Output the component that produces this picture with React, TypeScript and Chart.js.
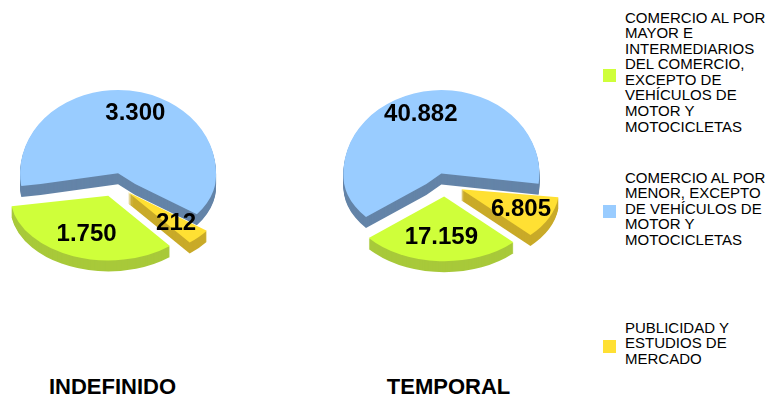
import React, { useEffect, useRef } from 'react';
import { Chart, registerables } from 'chart.js';

Chart.register(...registerables);

// ---- data ----
const categories = [
  'COMERCIO AL POR\nMAYOR E\nINTERMEDIARIOS\nDEL COMERCIO,\nEXCEPTO DE\nVEHÍCULOS DE\nMOTOR Y\nMOTOCICLETAS',
  'COMERCIO AL POR\nMENOR, EXCEPTO\nDE VEHÍCULOS DE\nMOTOR Y\nMOTOCICLETAS',
  'PUBLICIDAD Y\nESTUDIOS DE\nMERCADO',
];
const indefinidoValues = [1750, 3300, 212];
const temporalValues = [17159, 40882, 6805];
const pieTitles = ['INDEFINIDO', 'TEMPORAL'];

// ---- styles ----
const topColors = ['#CFFF3A', '#99CCFF', '#FFE033'];
const sideColors = ['#A8C93A', '#6484A8', '#C9AA28'];
const explodeBy = [19, 13, 18];
const labelRadius = [0.62, 0.75, 0.68];
const K_TOP = 0.85;
const K_BOTTOM = 0.66;
const DEPTH = 11;
const FONT = '"Liberation Sans", Arial, Helvetica, sans-serif';

const fmt = (n: number) => String(n).replace(/\B(?=(\d{3})+(?!\d))/g, '.');

const tiltPlugin = {
  id: 'tilt3d',
  beforeDatasetsDraw(chart: any) {
    const ctx: CanvasRenderingContext2D = chart.ctx;
    const meta = chart.getDatasetMeta(0);
    const arcs = meta.data as any[];
    if (!arcs.length) return false;
    const cy = arcs[0].y;
    const tilt = (dy: number, fn: () => void) => {
      for (const half of [0, 1]) {
        const k = half === 0 ? K_TOP : K_BOTTOM;
        ctx.save();
        ctx.translate(0, dy);
        ctx.beginPath();
        if (half === 0) ctx.rect(-5000, cy - 5000, 10000, 5000);
        else ctx.rect(-5000, cy, 10000, 5000);
        ctx.clip();
        ctx.translate(0, cy);
        ctx.scale(1, k);
        ctx.translate(0, -cy);
        fn();
        ctx.restore();
      }
    };
    const offs = arcs.map((a, i) => {
      const m = (a.startAngle + a.endAngle) / 2;
      const e = explodeBy[i % explodeBy.length];
      return [Math.cos(m) * e, Math.sin(m) * e, m];
    });
    // side walls
    for (let d = DEPTH; d >= 1; d--) {
      tilt(d, () => {
        arcs.forEach((a, i) => {
          const [ox, oy] = offs[i];
          ctx.beginPath();
          ctx.moveTo(a.x + ox, a.y + oy);
          ctx.arc(a.x + ox, a.y + oy, a.outerRadius, a.startAngle, a.endAngle);
          ctx.closePath();
          ctx.fillStyle = sideColors[i % sideColors.length];
          ctx.fill();
        });
      });
    }
    // top faces
    tilt(0, () => {
      arcs.forEach((a, i) => {
        ctx.save();
        ctx.translate(offs[i][0], offs[i][1]);
        a.draw(ctx);
        ctx.restore();
      });
    });
    // value labels
    const values = chart.data.datasets[0].data as number[];
    ctx.save();
    ctx.font = `bold 24px ${FONT}`;
    ctx.fillStyle = '#000';
    ctx.textAlign = 'center';
    ctx.textBaseline = 'middle';
    arcs.forEach((a, i) => {
      const [ox, oy, m] = offs[i];
      const f = labelRadius[i % labelRadius.length];
      const px = a.x + ox + Math.cos(m) * a.outerRadius * f;
      const py0 = a.y + oy + Math.sin(m) * a.outerRadius * f;
      const py = cy + (py0 - cy) * (py0 < cy ? K_TOP : K_BOTTOM);
      ctx.fillText(fmt(values[i]), px, py + 1);
    });
    ctx.restore();
    return false;
  },
};

function Pie({ values, rotation, left, top }: { values: number[]; rotation: number; left: number; top: number }) {
  const ref = useRef<HTMLCanvasElement>(null);
  useEffect(() => {
    if (!ref.current) return;
    const chart = new Chart(ref.current, {
      type: 'pie',
      data: {
        labels: categories,
        datasets: [
          {
            data: values,
            backgroundColor: topColors,
            borderWidth: 0,
            offset: 0,
          },
        ],
      },
      options: {
        responsive: false,
        animation: false,
        events: [],
        rotation,
        radius: 98,
        layout: { padding: 0 },
        plugins: { legend: { display: false }, tooltip: { enabled: false }, title: { display: false } },
      },
      plugins: [tiltPlugin as any],
    });
    return () => chart.destroy();
  }, []);
  return (
    <canvas
      ref={ref}
      width={230}
      height={230}
      style={{ position: 'absolute', left, top, width: 230, height: 230 }}
    />
  );
}

const legendBlocks = [
  { textTop: 9.5, boxTop: 69 },
  { textTop: 169.5, boxTop: 205 },
  { textTop: 319.5, boxTop: 340 },
];

export default function App() {
  return (
    <div style={{ position: 'absolute', left: 0, top: 0, width: 778, height: 401, background: '#fff', overflow: 'hidden', fontFamily: FONT }}>
      <Pie values={indefinidoValues} rotation={141} left={0} top={69} />
      <Pie values={temporalValues} rotation={135} left={330} top={69} />
      {pieTitles.map((t, i) => (
        <div
          key={t}
          style={{
            position: 'absolute',
            left: i === 0 ? 12.5 : 348.5,
            width: 200,
            top: 376,
            textAlign: 'center',
            font: `bold 22px/22px ${FONT}`,
            color: '#000',
          }}
        >
          {t}
        </div>
      ))}
      {categories.map((c, i) => (
        <React.Fragment key={i}>
          <div style={{ position: 'absolute', left: 603, top: legendBlocks[i].boxTop, width: 13, height: 13, background: topColors[i] }} />
          <div
            style={{
              position: 'absolute',
              left: 625,
              top: legendBlocks[i].textTop,
              whiteSpace: 'pre-line',
              font: `15px/15.6px ${FONT}`,
              color: '#000',
            }}
          >
            {c}
          </div>
        </React.Fragment>
      ))}
    </div>
  );
}
